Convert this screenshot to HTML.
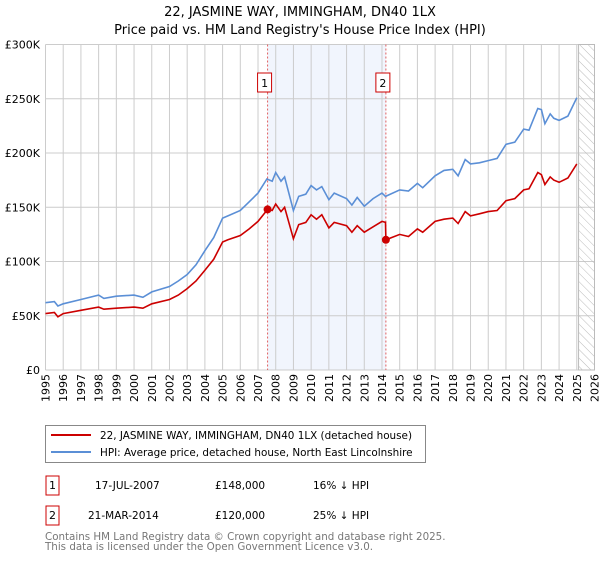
<!DOCTYPE html>
<html><head><meta charset="utf-8"><style>
body{margin:0;background:#fff;font-family:"Liberation Sans","DejaVu Sans",sans-serif;}
svg text{font-family:"DejaVu Sans","Liberation Sans",sans-serif;}
</style></head><body>
<svg id="c" width="600" height="560" xmlns="http://www.w3.org/2000/svg">
<defs><pattern id="hatch" width="6" height="6" patternUnits="userSpaceOnUse" patternTransform="rotate(-45)"><line x1="0" y1="0" x2="0" y2="6" stroke="#bbb" stroke-width="1"/></pattern></defs>
<text x="300" y="16" text-anchor="middle" font-size="13">22, JASMINE WAY, IMMINGHAM, DN40 1LX</text>
<text x="300" y="34" text-anchor="middle" font-size="13">Price paid vs. HM Land Registry's House Price Index (HPI)</text>
<g id="grid"></g><g id="marks"></g>
<g>
<rect x="45.5" y="425.5" width="380" height="37" fill="#fff" stroke="#888"/>
<line x1="51" y1="435" x2="91" y2="435" stroke="#cc0000" stroke-width="2"/>
<text x="100" y="439" font-size="10.4">22, JASMINE WAY, IMMINGHAM, DN40 1LX (detached house)</text>
<line x1="51" y1="452" x2="91" y2="452" stroke="#5b8fd6" stroke-width="2"/>
<text x="100" y="456" font-size="10.4">HPI: Average price, detached house, North East Lincolnshire</text>
</g>
<g>
<rect x="46" y="476" width="13" height="19" fill="none" stroke="#cc0000"/><text x="52.5" y="489" text-anchor="middle" font-size="11">1</text>
<text x="95" y="489" font-size="10.5">17-JUL-2007</text><text x="215" y="489" font-size="10.5">£148,000</text><text x="313" y="489" font-size="10.5">16% ↓ HPI</text></g>
<g>
<rect x="46" y="506" width="13" height="19" fill="none" stroke="#cc0000"/><text x="52.5" y="519" text-anchor="middle" font-size="11">2</text>
<text x="88" y="519" font-size="10.5">21-MAR-2014</text><text x="215" y="519" font-size="10.5">£120,000</text><text x="313" y="519" font-size="10.5">25% ↓ HPI</text></g>
<text x="45" y="540" font-size="10.3" fill="#777">Contains HM Land Registry data © Crown copyright and database right 2025.</text>
<text x="45" y="550" font-size="10.3" fill="#777">This data is licensed under the Open Government Licence v3.0.</text>
</svg>
<script>
const yearTicks=[1995,1996,1997,1998,1999,2000,2001,2002,2003,2004,2005,2006,2007,2008,2009,2010,2011,2012,2013,2014,2015,2016,2017,2018,2019,2020,2021,2022,2023,2024,2025,2026];
const valueTicks=[0,50,100,150,200,250,300];
const valueLabels=["£0","£50K","£100K","£150K","£200K","£250K","£300K"];
const hpiYears=[1995,1995.5,1995.7,1996,1997,1998,1998.3,1999,2000,2000.5,2001,2002,2002.5,2003,2003.5,2004,2004.5,2005,2005.3,2006,2006.5,2007,2007.5,2007.8,2008,2008.3,2008.5,2009,2009.3,2009.7,2010,2010.3,2010.6,2011,2011.3,2012,2012.3,2012.6,2013,2013.5,2014,2014.2,2015,2015.5,2016,2016.3,2017,2017.5,2018,2018.3,2018.7,2019,2019.5,2020,2020.5,2021,2021.5,2022,2022.3,2022.8,2023,2023.2,2023.5,2023.7,2024,2024.5,2025];
const hpiValues=[62,63,59,61,65,69,66,68,69,67,72,77,82,88,97,110,122,140,142,147,155,163,176,174,182,174,178,147,160,162,170,166,169,157,163,158,152,159,151,158,163,160,166,165,172,168,179,184,185,179,194,190,191,193,195,208,210,222,221,241,240,227,236,232,230,234,251];
const propYears=[1995,1995.5,1995.7,1996,1997,1998,1998.3,1999,2000,2000.5,2001,2002,2002.5,2003,2003.5,2004,2004.5,2005,2005.3,2006,2006.5,2007,2007.54,2007.8,2008,2008.3,2008.5,2009,2009.3,2009.7,2010,2010.3,2010.6,2011,2011.3,2012,2012.3,2012.6,2013,2013.5,2014,2014.2,2014.22,2015,2015.5,2016,2016.3,2017,2017.5,2018,2018.3,2018.7,2019,2019.5,2020,2020.5,2021,2021.5,2022,2022.3,2022.8,2023,2023.2,2023.5,2023.7,2024,2024.5,2025];
const propValues=[52,53,49,52,55,58,56,57,58,57,61,65,69,75,82,92,102,118,120,124,130,137,148,147,153,146,150,121,134,136,143,139,143,131,136,133,127,133,127,132,137,136,120,125,123,130,127,137,139,140,135,146,142,144,146,147,156,158,166,167,182,180,171,178,175,173,177,190];
const saleYears=[2007.54,2014.22];
const saleValues=[148,120];
const saleLabels=["1","2"];
const NS="http://www.w3.org/2000/svg";
const X0=45.5,X1=594.5,Y0=370,Y1=44.5;
const xs=y=>X0+(y-1995)/31*(X1-X0);
const ys=v=>Y0-v/300*(Y0-Y1);
function mk(t,a,p){const e=document.createElementNS(NS,t);for(const k in a)e.setAttribute(k,a[k]);p.appendChild(e);return e;}
const g=document.getElementById('grid'),m=document.getElementById('marks');
const sh=mk('rect',{x:xs(saleYears[0]),y:Y1,width:xs(saleYears[1])-xs(saleYears[0]),height:Y0-Y1,fill:'#eef3fc',opacity:0.8},g);


yearTicks.forEach(yr=>{
 const l=mk('line',{x1:xs(yr),x2:xs(yr),y1:Y1,y2:Y0,stroke:'#ccc'},g);
 
 
 const t=mk('text',{x:0,y:0,'font-size':11,'text-anchor':'end',transform:`translate(${xs(yr)+4},${Y0+4}) rotate(-90)`},g);
 t.textContent=yr;
 
 
});
valueTicks.forEach((v,i)=>{
 const l=mk('line',{x1:X0,x2:X1,y1:ys(v),y2:ys(v),stroke:'#ccc'},g);
 
 
 const t=mk('text',{x:40,y:ys(v)+4,'font-size':11,'text-anchor':'end'},g);
 t.textContent=valueLabels[i];
 
 
});
const hx=xs(2025.1);
const ha=mk('rect',{x:hx,y:Y1,width:X1-hx,height:Y0-Y1,fill:'url(#hatch)',stroke:'#bbb'},g);


saleYears.forEach((yr,i)=>{
 const l=mk('line',{x1:xs(yr),x2:xs(yr),y1:Y1,y2:Y0,stroke:'#e06060','stroke-dasharray':'2,2'},m);
 
 
 const bx=xs(yr)-3;
 const r=mk('rect',{x:bx-7,y:73,width:14,height:19,fill:'#fff',stroke:'#cc0000'},m);
 
 
 const t=mk('text',{x:bx,y:87,'font-size':11,'text-anchor':'middle'},m);
 t.textContent=saleLabels[i];
});
function line(xsA,vs,col,name){
 const d=xsA.map((yr,i)=>(i?'L':'M')+xs(yr).toFixed(1)+','+ys(vs[i]).toFixed(1)).join('');
 const p=mk('path',{d:d,fill:'none',stroke:col,'stroke-width':1.6},m);
 
 
}
line(hpiYears,hpiValues,'#5b8fd6','hpi-line');
line(propYears,propValues,'#cc0000','property-line');
saleYears.forEach((yr,i)=>{
 const c=mk('circle',{cx:xs(yr),cy:ys(saleValues[i]),r:4,fill:'#cc0000'},m);
 
 
});
</script>
</body></html>
